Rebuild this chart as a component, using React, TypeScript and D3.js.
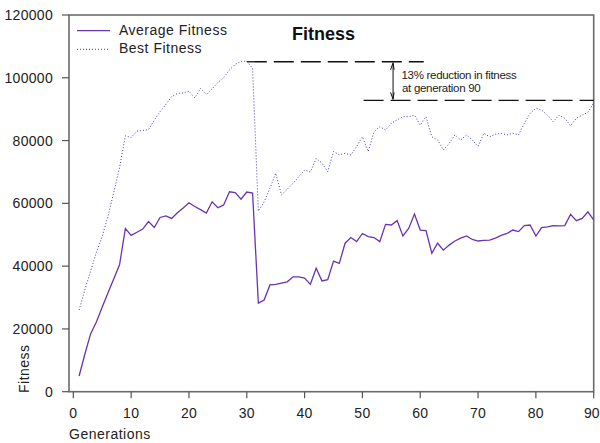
import React from "react";
import * as d3 from "d3";

const generations: number[] = d3.range(1, 91);

const averageFitness: number[] = [
  5000, 12000, 18500, 22300, 27000, 31500, 36000, 40500, 52000, 49800,
  50800, 51800, 54200, 52300, 55500, 56000, 55200, 57000, 58500, 60200,
  59000, 58000, 56900, 60500, 58600, 59500, 63700, 63400, 61300, 63600,
  63300, 28200, 29200, 34000, 34200, 34600, 35000, 36600, 36600, 36200,
  34200, 39300, 35300, 35700, 41600, 40900, 47300, 49100, 47800, 50400,
  49400, 49100, 47800, 53300, 53100, 54500, 49600, 52000, 56600, 51500,
  51300, 44100, 47300, 45100, 46700, 48000, 48900, 49600, 48500, 48000,
  48200, 48300, 48900, 49800, 50400, 51500, 51000, 52900, 53100, 49600,
  52300, 52500, 52900, 52800, 52900, 56500, 54500, 55200, 57300, 54700,
];

const bestFitness: number[] = [
  26000, 32500, 38500, 44500, 49500, 56000, 63500, 71500, 81500, 81000,
  83000, 83200, 83500, 86500, 89200, 91500, 94000, 95000, 95200, 95700,
  93600, 96600, 94700, 96500, 98500, 100000, 102500, 104300, 105200, 105300,
  103000, 57500, 60500, 64800, 69600, 62700, 64500, 66400, 68500, 70600,
  70000, 74300, 72800, 70100, 76500, 75500, 75900, 75400, 78100, 81200,
  76500, 82800, 84400, 83400, 85500, 86600, 87600, 87600, 88100, 84900,
  87600, 81200, 80200, 77000, 79100, 81800, 80200, 81800, 80200, 78100,
  82300, 81200, 82000, 82300, 81800, 82300, 81800, 85500, 88700, 90300,
  89700, 88100, 86000, 88100, 87100, 84700, 87100, 88100, 89000, 92000,
];

const xTicks: number[] = [0, 10, 20, 30, 40, 50, 60, 70, 80, 90];
const yTicks: number[] = [0, 20000, 40000, 60000, 80000, 100000, 120000];

const seriesNames: string[] = ["Average Fitness", "Best Fitness"];
const titleText = "Fitness";
const xLabel = "Generations";
const yLabel = "Fitness";

// annotation (generation, fitness) anchors
const peakLine: number[] = [30, 60.6, 105100];
const reducedLine: number[] = [50.2, 90, 92800];
const arrowGen = 55.3;
const annotationLines: string[] = ["13% reduction in fitness", "at generation 90"];

const W = 600;
const H = 443;
const FONT = "'Liberation Sans', Arial, sans-serif";

export default function App() {
  const x = d3.scaleLinear().domain([-0.75, 90]).range([69, 593.7]);
  const y = d3.scaleLinear().domain([0, 120000]).range([391.7, 15]);

  const lineGen = d3
    .line<number>()
    .x((_, i) => x(generations[i]))
    .y((d) => y(d));

  const avgPath = lineGen(averageFitness) || "";
  const bestPath = lineGen(bestFitness) || "";

  const left = x.range()[0];
  const right = x.range()[1];
  const top = y.range()[1];
  const bottom = y.range()[0];

  const ax = x(arrowGen);
  const yTop = y(peakLine[2]);
  const yBot = y(reducedLine[2]);

  return (
    <svg
      width={W}
      height={H}
      style={{ position: "fixed", left: 0, top: 0, background: "#fff" }}
      fontFamily={FONT}
    >
      <rect x={0} y={0} width={W} height={H} fill="#fff" />

      {/* frame */}
      <rect
        x={left}
        y={top}
        width={right - left}
        height={bottom - top}
        fill="none"
        stroke="#6b6b6b"
        strokeWidth={1.6}
      />

      {/* y ticks */}
      {yTicks.map((t) => (
        <g key={"y" + t}>
          <line x1={left - 7} x2={left} y1={y(t)} y2={y(t)} stroke="#555" strokeWidth={1.2} />
          <text
            x={53}
            y={y(t)}
            dy="0.36em"
            textAnchor="end"
            fontSize={14}
            fill="#222"
            letterSpacing={0.3}
          >
            {t}
          </text>
        </g>
      ))}

      {/* x ticks */}
      {xTicks.map((t, i) => {
        const last = i === xTicks.length - 1;
        return (
          <g key={"x" + t}>
            <line x1={x(t)} x2={x(t)} y1={bottom} y2={bottom + 6.5} stroke="#555" strokeWidth={1.2} />
            <text
              x={last ? W - 0.5 : x(t)}
              y={418}
              textAnchor={last ? "end" : "middle"}
              fontSize={14}
              fill="#222"
              letterSpacing={last ? 0 : 0.3}
            >
              {t}
            </text>
          </g>
        );
      })}

      {/* axis labels */}
      <text x={69} y={439} fontSize={14} fill="#222" letterSpacing={0.5}>
        {xLabel}
      </text>
      <text
        transform={`translate(29,393) rotate(-90)`}
        fontSize={14}
        fill="#222"
        letterSpacing={0.5}
      >
        {yLabel}
      </text>

      {/* title */}
      <text x={292} y={40} fontSize={18} fontWeight="bold" fill="#111">
        {titleText}
      </text>

      {/* series */}
      <path d={bestPath} fill="none" stroke="#3a3ac8" strokeWidth={1} strokeDasharray="1,2" />
      <path d={avgPath} fill="none" stroke="#6a34b0" strokeWidth={1.3} />

      {/* legend */}
      <line x1={77} x2={110} y1={30.7} y2={30.7} stroke="#6a34b0" strokeWidth={1.3} />
      <text x={119} y={34.5} fontSize={14} fill="#222" letterSpacing={0.5}>
        {seriesNames[0]}
      </text>
      <line x1={77} x2={110} y1={49.3} y2={49.3} stroke="#3a3ac8" strokeWidth={1} strokeDasharray="1,2" />
      <text x={119} y={53.3} fontSize={14} fill="#222" letterSpacing={0.5}>
        {seriesNames[1]}
      </text>

      {/* annotation */}
      <line
        x1={x(peakLine[0])}
        x2={x(peakLine[1])}
        y1={yTop}
        y2={yTop}
        stroke="#111"
        strokeWidth={1.3}
        strokeDasharray="20,7"
      />
      <line
        x1={x(reducedLine[0])}
        x2={x(reducedLine[1])}
        y1={yBot}
        y2={yBot}
        stroke="#111"
        strokeWidth={1.3}
        strokeDasharray="20,7"
      />
      <line x1={ax} x2={ax} y1={yTop + 2} y2={yBot - 2} stroke="#111" strokeWidth={1} />
      <path
        d={`M${ax - 2.5},${yTop + 8} L${ax},${yTop + 1} L${ax + 1},${yTop + 8}`}
        fill="none"
        stroke="#111"
        strokeWidth={1}
      />
      <path
        d={`M${ax - 2.5},${yBot - 8} L${ax},${yBot - 1} L${ax + 1},${yBot - 8}`}
        fill="none"
        stroke="#111"
        strokeWidth={1}
      />
      <text x={401.5} y={79} fontSize={11.5} fill="#222" letterSpacing={-0.3}>
        {annotationLines[0]}
      </text>
      <text x={402} y={91.5} fontSize={11.5} fill="#222" letterSpacing={-0.3}>
        {annotationLines[1]}
      </text>
    </svg>
  );
}
